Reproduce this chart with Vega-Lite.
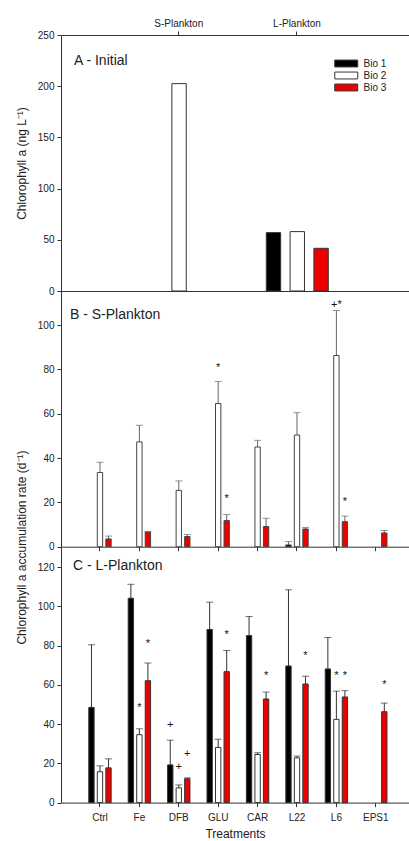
{
  "$schema": "https://vega.github.io/schema/vega-lite/v6.json",
  "padding": {"left": 15, "top": 18, "right": 0, "bottom": 0},
  "config": {
    "font": "Liberation Sans",
    "view": {"stroke": null},
    "axis": {"grid": false, "labelFont": "Liberation Sans", "labelFontSize": 10, "labelColor": "#222", "domainColor": "#333", "tickColor": "#333", "tickSize": 4, "labelPadding": 3, "titleFont": "Liberation Sans", "titleFontSize": 12, "titleFontWeight": "normal", "titleColor": "#222"}
  },
  "datasets": {
    "initial": [
      {"group": "S-Plankton", "series": "Bio 2", "value": 202.5},
      {"group": "L-Plankton", "series": "Bio 1", "value": 57},
      {"group": "L-Plankton", "series": "Bio 2", "value": 58},
      {"group": "L-Plankton", "series": "Bio 3", "value": 41.7}
    ],
    "splank": [
      {"treatment": "Ctrl", "series": "Bio 2", "value": 33.5, "upper": 38.1},
      {"treatment": "Ctrl", "series": "Bio 3", "value": 3.5, "upper": 4.8},
      {"treatment": "Fe", "series": "Bio 2", "value": 47.3, "upper": 54.8},
      {"treatment": "Fe", "series": "Bio 3", "value": 6.6, "upper": 6.8},
      {"treatment": "DFB", "series": "Bio 2", "value": 25.4, "upper": 29.7},
      {"treatment": "DFB", "series": "Bio 3", "value": 4.6, "upper": 5.5},
      {"treatment": "GLU", "series": "Bio 2", "value": 64.6, "upper": 74.6},
      {"treatment": "GLU", "series": "Bio 3", "value": 11.8, "upper": 14.5},
      {"treatment": "CAR", "series": "Bio 2", "value": 45, "upper": 48},
      {"treatment": "CAR", "series": "Bio 3", "value": 9.1, "upper": 12.8},
      {"treatment": "L22", "series": "Bio 1", "value": 0.8, "upper": 2.3},
      {"treatment": "L22", "series": "Bio 2", "value": 50.4, "upper": 60.5},
      {"treatment": "L22", "series": "Bio 3", "value": 8, "upper": 8.7},
      {"treatment": "L6", "series": "Bio 2", "value": 86.3, "upper": 106.6},
      {"treatment": "L6", "series": "Bio 3", "value": 11.3, "upper": 13.8},
      {"treatment": "EPS1", "series": "Bio 3", "value": 6.2, "upper": 7.3}
    ],
    "lplank": [
      {"treatment": "Ctrl", "series": "Bio 1", "value": 48.5, "upper": 80.4},
      {"treatment": "Ctrl", "series": "Bio 2", "value": 15.7, "upper": 18.7},
      {"treatment": "Ctrl", "series": "Bio 3", "value": 17.7, "upper": 22.3},
      {"treatment": "Fe", "series": "Bio 1", "value": 104.1, "upper": 111.2},
      {"treatment": "Fe", "series": "Bio 2", "value": 34.6, "upper": 37.6},
      {"treatment": "Fe", "series": "Bio 3", "value": 62.1, "upper": 71.1},
      {"treatment": "DFB", "series": "Bio 1", "value": 19.2, "upper": 31.8},
      {"treatment": "DFB", "series": "Bio 2", "value": 7.5, "upper": 9},
      {"treatment": "DFB", "series": "Bio 3", "value": 12.1, "upper": 12.6},
      {"treatment": "GLU", "series": "Bio 1", "value": 88.2, "upper": 102.1},
      {"treatment": "GLU", "series": "Bio 2", "value": 28.1, "upper": 32.3},
      {"treatment": "GLU", "series": "Bio 3", "value": 66.7, "upper": 77.5},
      {"treatment": "CAR", "series": "Bio 1", "value": 85.1, "upper": 94.8},
      {"treatment": "CAR", "series": "Bio 2", "value": 24.5, "upper": 25.4},
      {"treatment": "CAR", "series": "Bio 3", "value": 52.8, "upper": 56.3},
      {"treatment": "L22", "series": "Bio 1", "value": 69.6, "upper": 108.4},
      {"treatment": "L22", "series": "Bio 2", "value": 22.8, "upper": 23.7},
      {"treatment": "L22", "series": "Bio 3", "value": 60.4, "upper": 64.4},
      {"treatment": "L6", "series": "Bio 1", "value": 68.1, "upper": 84.1},
      {"treatment": "L6", "series": "Bio 2", "value": 42.4, "upper": 56.8},
      {"treatment": "L6", "series": "Bio 3", "value": 53.8, "upper": 57},
      {"treatment": "EPS1", "series": "Bio 3", "value": 46.3, "upper": 50.7}
    ],
    "marksB": [
      {"treatment": "GLU", "series": "Bio 2", "pos": 82, "label": "*"},
      {"treatment": "GLU", "series": "Bio 3", "pos": 23, "label": "*"},
      {"treatment": "L6", "series": "Bio 2", "pos": 110.5, "label": "+*"},
      {"treatment": "L6", "series": "Bio 3", "pos": 21.6, "label": "*"}
    ],
    "marksC": [
      {"treatment": "Fe", "series": "Bio 2", "pos": 49.5, "label": "*"},
      {"treatment": "Fe", "series": "Bio 3", "pos": 82.2, "label": "*"},
      {"treatment": "DFB", "series": "Bio 1", "pos": 40, "label": "+"},
      {"treatment": "DFB", "series": "Bio 2", "pos": 18.4, "label": "+"},
      {"treatment": "DFB", "series": "Bio 3", "pos": 25.2, "label": "+"},
      {"treatment": "GLU", "series": "Bio 3", "pos": 87, "label": "*"},
      {"treatment": "CAR", "series": "Bio 3", "pos": 65.9, "label": "*"},
      {"treatment": "L22", "series": "Bio 3", "pos": 76, "label": "*"},
      {"treatment": "L6", "series": "Bio 2", "pos": 66, "label": "*"},
      {"treatment": "L6", "series": "Bio 3", "pos": 66, "label": "*"},
      {"treatment": "EPS1", "series": "Bio 3", "pos": 61.4, "label": "*"}
    ],
    "panelA": [
      {"group": "p1", "pos": 225, "label": "A - Initial"}
    ],
    "panelB": [
      {"treatment": "Ctrl", "series": "Bio 2", "pos": 104.6, "label": "B - S-Plankton"}
    ],
    "panelC": [
      {"treatment": "Ctrl", "series": "Bio 2", "pos": 120.4, "label": "C - L-Plankton"}
    ]
  },
  "spacing": 0,
  "bounds": "flush",
  "resolve": {"scale": {"xOffset": "independent"}, "legend": {"fill": "independent"}},
  "vconcat": [
    {
      "width": 348,
      "height": 256,
      "layer": [
        {
          "data": {"name": "initial"},
          "mark": {"type": "bar", "stroke": "#333", "strokeWidth": 1},
          "encoding": {
            "x": {"field": "group", "type": "nominal",
              "scale": {"domain": ["p1", "p2", "S-Plankton", "p4", "p5", "L-Plankton", "p7", "p8"], "paddingInner": 0, "paddingOuter": 0.416, "align": 0.588},
              "axis": {"orient": "top", "values": ["S-Plankton", "L-Plankton"], "title": null, "labelAngle": 0}},
            "xOffset": {"field": "series", "type": "nominal",
              "scale": {"domain": ["Bio 1", "Bio 2", "Bio 3"], "range": [-11, 51], "paddingInner": 0.396, "paddingOuter": 0}},
            "y": {"field": "value", "type": "quantitative", "stack": null,
              "scale": {"domain": [0, 250], "nice": false, "zero": true, "padding": 0},
              "axis": {"values": [0, 50, 100, 150, 200, 250], "title": "Chlorophyll a (ng L⁻¹)", "titleX": -40, "titleY": 128, "titleAngle": -90, "titleBaseline": "middle", "titleAlign": "center"}},
            "fill": {"field": "series", "type": "nominal",
              "scale": {"domain": ["Bio 1", "Bio 2", "Bio 3"], "range": ["#000000", "#ffffff", "#ee0000"]},
              "legend": {"orient": "none", "legendX": 278.75, "legendY": 22, "title": null, "padding": 0, "symbolType": "M-2,-0.6L2,-0.6L2,0.6L-2,0.6Z", "symbolSize": 132, "symbolStrokeColor": "#333", "symbolStrokeWidth": 1, "labelFontSize": 10, "labelFont": "Liberation Sans", "labelColor": "#222", "rowPadding": 0, "labelOffset": 10.75}}
          }
        },
        {
          "data": {"name": "initial"},
          "mark": {"type": "bar", "opacity": 0},
          "encoding": {
            "x": {"field": "group", "type": "nominal", "axis": {"orient": "bottom", "labels": false, "ticks": false, "title": null}},
            "y": {"field": "value", "type": "quantitative", "stack": null}
          }
        },
        {
          "data": {"name": "panelA"},
          "mark": {"type": "text", "fontSize": 14, "color": "#222", "align": "left", "baseline": "middle", "dx": -26},
          "encoding": {
            "x": {"field": "group", "type": "nominal", "axis": null},
            "y": {"field": "pos", "type": "quantitative"},
            "text": {"field": "label"}
          }
        }
      ],
      "resolve": {"axis": {"x": "independent"}}
    },
    {
      "width": 348,
      "height": 255.7,
      "encoding": {
        "x": {"field": "treatment", "type": "nominal",
          "scale": {"domain": ["Ctrl", "Fe", "DFB", "GLU", "CAR", "L22", "L6", "EPS1"], "paddingInner": 0, "paddingOuter": 0.416, "align": 0.588},
          "axis": {"labels": false, "title": null}},
        "xOffset": {"field": "series", "type": "nominal",
          "scale": {"domain": ["Bio 1", "Bio 2", "Bio 3"], "paddingInner": 0.373, "paddingOuter": 1.06}}
      },
      "layer": [
        {
          "data": {"name": "splank"},
          "mark": {"type": "rule", "color": "#666", "strokeWidth": 1},
          "encoding": {
            "y": {"field": "value", "type": "quantitative", "scale": {"domain": [0, 115.4], "nice": false, "padding": 0},
              "axis": {"values": [0, 20, 40, 60, 80, 100], "title": "Chlorophyll a accumulation rate (d⁻¹)", "titleX": -40, "titleY": 256, "titleAngle": -90, "titleBaseline": "middle", "titleAlign": "center"}},
            "y2": {"field": "upper"}
          }
        },
        {
          "data": {"name": "splank"},
          "mark": {"type": "tick", "orient": "horizontal", "color": "#666", "size": 7, "thickness": 1},
          "encoding": {"y": {"field": "upper", "type": "quantitative"}}
        },
        {
          "data": {"name": "splank"},
          "mark": {"type": "bar", "stroke": "#444", "strokeWidth": 1},
          "encoding": {
            "y": {"field": "value", "type": "quantitative", "stack": null},
            "fill": {"field": "series", "type": "nominal", "legend": null}
          }
        },
        {
          "data": {"name": "marksB"},
          "mark": {"type": "text", "fontSize": 11, "color": "#111", "baseline": "alphabetic", "dy": 6},
          "encoding": {
            "y": {"field": "pos", "type": "quantitative"},
            "text": {"field": "label"}
          }
        },
        {
          "data": {"name": "panelB"},
          "mark": {"type": "text", "fontSize": 14, "color": "#222", "align": "left", "baseline": "middle", "dx": -30},
          "encoding": {
            "y": {"field": "pos", "type": "quantitative"},
            "text": {"field": "label"}
          }
        }
      ]
    },
    {
      "width": 348,
      "height": 255.6,
      "encoding": {
        "x": {"field": "treatment", "type": "nominal",
          "scale": {"domain": ["Ctrl", "Fe", "DFB", "GLU", "CAR", "L22", "L6", "EPS1"], "paddingInner": 0, "paddingOuter": 0.416, "align": 0.588},
          "axis": {"title": "Treatments", "labelAngle": 0, "labelPadding": 6, "titlePadding": 6}},
        "xOffset": {"field": "series", "type": "nominal",
          "scale": {"domain": ["Bio 1", "Bio 2", "Bio 3"], "paddingInner": 0.373, "paddingOuter": 1.06}}
      },
      "layer": [
        {
          "data": {"name": "lplank"},
          "mark": {"type": "rule", "color": "#333", "strokeWidth": 1},
          "encoding": {
            "y": {"field": "value", "type": "quantitative", "scale": {"domain": [0, 130.2], "nice": false, "padding": 0},
              "axis": {"values": [0, 20, 40, 60, 80, 100, 120], "title": null}},
            "y2": {"field": "upper"}
          }
        },
        {
          "data": {"name": "lplank"},
          "mark": {"type": "tick", "orient": "horizontal", "color": "#333", "size": 7, "thickness": 1},
          "encoding": {"y": {"field": "upper", "type": "quantitative"}}
        },
        {
          "data": {"name": "lplank"},
          "mark": {"type": "bar", "stroke": "#333", "strokeWidth": 1},
          "encoding": {
            "y": {"field": "value", "type": "quantitative", "stack": null},
            "fill": {"field": "series", "type": "nominal", "legend": null}
          }
        },
        {
          "data": {"name": "marksC"},
          "transform": [{"filter": "datum.label == '*'"}],
          "mark": {"type": "text", "fontSize": 11, "color": "#111", "baseline": "alphabetic", "dy": 6},
          "encoding": {
            "y": {"field": "pos", "type": "quantitative"},
            "text": {"field": "label"}
          }
        },
        {
          "data": {"name": "marksC"},
          "transform": [{"filter": "datum.label == '+'"}],
          "mark": {"type": "text", "fontSize": 11, "color": "#111", "baseline": "alphabetic", "dy": 3.5},
          "encoding": {
            "y": {"field": "pos", "type": "quantitative"},
            "text": {"field": "label"}
          }
        },
        {
          "data": {"name": "panelC"},
          "mark": {"type": "text", "fontSize": 14, "color": "#222", "align": "left", "baseline": "middle", "dx": -27},
          "encoding": {
            "y": {"field": "pos", "type": "quantitative"},
            "text": {"field": "label"}
          }
        }
      ]
    }
  ]
}
